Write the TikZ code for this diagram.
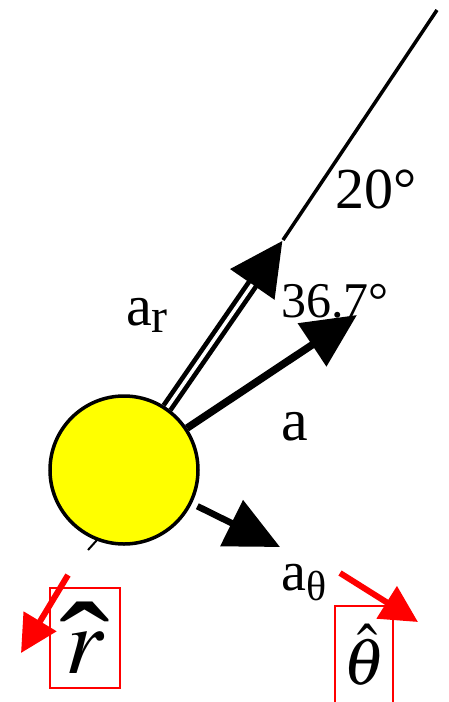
\documentclass[tikz,border=0pt]{standalone}
\usepackage{mathptmx}
\usepackage{graphicx}
\usepackage{fontspec}
\setmainfont{Liberation Serif}
\usetikzlibrary{arrows.meta,backgrounds}
\definecolor{ballyellow}{RGB}{255,255,0}
\definecolor{unitred}{RGB}{255,0,0}
\tikzset{
  bighead/.style={-{Triangle[length=54pt,width=50pt]}},
  redhead/.style={-{Triangle[length=37pt,width=37pt]}},
  unitbox/.style={draw=unitred,line width=1.2pt,inner sep=0pt},
  lbl/.style={anchor=base west,inner sep=0pt}
}
\newcommand{\fsz}[1]{\fontsize{#1}{#1}\selectfont}
\newsavebox{\rglyph}
\newcommand{\bighatr}{\sbox{\rglyph}{$r$}%
  \makebox[\wd\rglyph][c]{\raisebox{-21pt}[70pt][0pt]{\scalebox{1.6}[1.4]{ˆ}}}%
  \hspace{-\wd\rglyph}\usebox{\rglyph}}

\begin{document}
\begin{tikzpicture}[x=1pt,y=-1pt]
    \useasboundingbox (0,0) rectangle (449,702);
    \node[circle,draw,line width=3.5pt,fill=ballyellow,minimum size=148pt] (ball) at (124,470) {};

    \coordinate (artip) at (283,240);
    \coordinate (linetop) at (437,10);
    \coordinate (atip) at (357,315);
    \coordinate (thtip) at (280,547);
    \coordinate (stubA) at (88,550);
    \coordinate (stubB) at (97,540);
    \coordinate (rstart) at (68,575);
    \coordinate (rtip) at (21,653);
    \coordinate (tstart) at (340,573);
    \coordinate (ttip) at (418,622);

    \begin{scope}[on background layer]
        % a_r with a double shaft
        \draw[bighead,line width=13pt] (ball) -- (artip);
        \draw[white,line width=3.5pt,shorten >=54pt] (ball) -- (artip);
        \draw[bighead,line width=7.5pt] (ball) -- (atip);
        \draw[bighead,line width=6.5pt,shorten <=6pt] (ball) -- (thtip);
    \end{scope}
    \draw[line width=3.5pt] (artip) -- (linetop);
    \draw[line width=2pt] (stubA) -- (stubB);

    \draw[unitred,redhead,line width=6pt] (rstart) -- (rtip);
    \draw[unitred,redhead,line width=6pt] (tstart) -- (ttip);

    \node[unitbox,minimum width=70pt,minimum height=100pt] (rbox) at (85,638) {\fsz{95}\bighatr};
    \node[unitbox,minimum width=58pt,minimum height=98pt] (tbox) at (364,655) {\fsz{66}$\hat{\theta}$};

    \node[lbl,font=\fsz{58}] (lbltwenty) at (335,208) {20°};
    \node[lbl,font=\fsz{50}] (lblangle) at (281,317) {36.7°};
    \node[lbl,font=\fsz{60}] (lbla) at (281,440) {a};
    \node[lbl,font=\fsz{58}] (lblar) at (126,325) {a\raisebox{-7pt}{\fsz{48}r}};
    \node[lbl,font=\fsz{56}] (lblat) at (281,590) {a\raisebox{-10pt}{\fsz{42}θ}};
\end{tikzpicture}
\end{document}
